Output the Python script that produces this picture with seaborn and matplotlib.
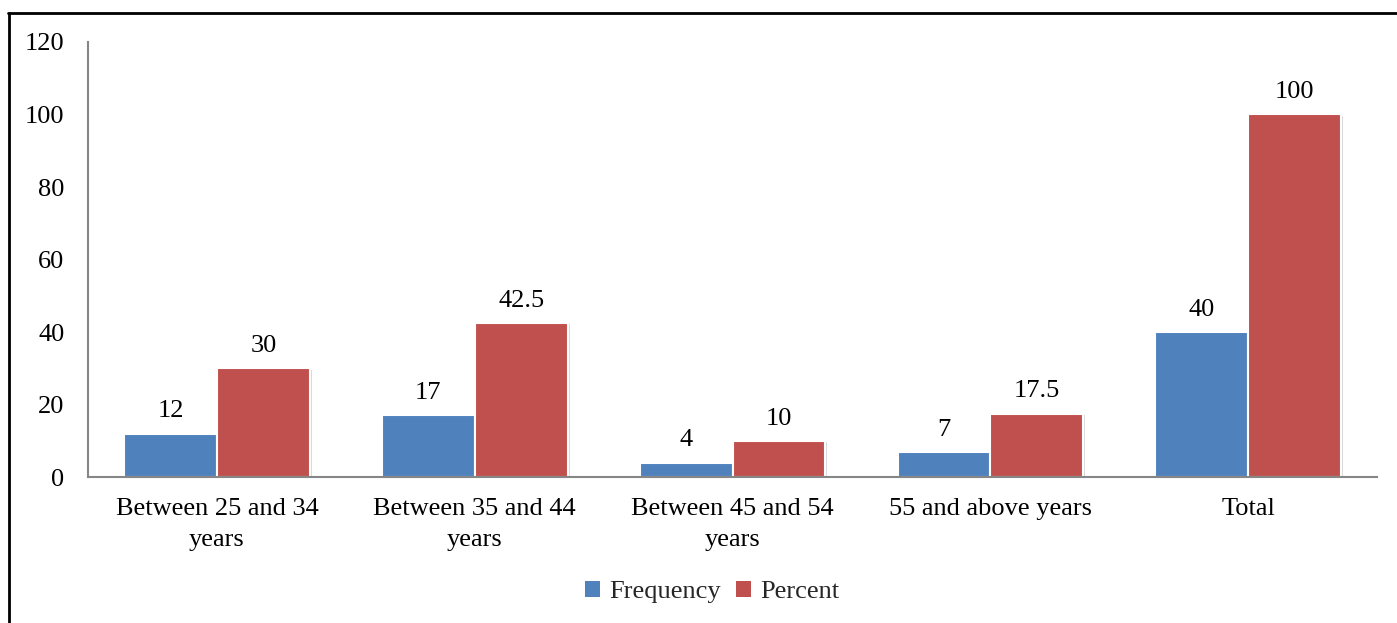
import matplotlib
matplotlib.use("Agg")
import matplotlib.pyplot as plt
import matplotlib.patheffects as pe
from matplotlib.lines import Line2D
from matplotlib.patches import Patch
import seaborn as sns
import pandas as pd

categories = ["Between 25 and 34\nyears", "Between 35 and 44\nyears",
              "Between 45 and 54\nyears", "55 and above years", "Total"]
frequency = [12, 17, 4, 7, 40]
percent = [30, 42.5, 10, 17.5, 100]
series_names = ["Frequency", "Percent"]
y_ticks = [0, 20, 40, 60, 80, 100, 120]

colors = {"Frequency": "#4F81BD", "Percent": "#C0504D"}

df = pd.DataFrame({
    "category": categories * 2,
    "value": frequency + percent,
    "series": [series_names[0]] * len(categories) + [series_names[1]] * len(categories),
})

sns.set_theme(style="white")
plt.rcParams["font.family"] = ["Liberation Serif", "DejaVu Serif"]

FS = 19

fig = plt.figure(figsize=(13.97, 6.23), dpi=100)
ax = fig.add_axes([0.063, 0.2343, 0.9227, 0.6983])

sns.barplot(data=df, x="category", y="value", hue="series", order=categories,
            hue_order=series_names, palette=colors, saturation=1, width=0.72,
            edgecolor="white", linewidth=1.5, legend=False, ax=ax)

for patch in ax.patches:
    patch.set_path_effects([pe.SimplePatchShadow(offset=(1.5, -1), shadow_rgbFace="#000000", alpha=0.15),
                            pe.Normal()])

for container in ax.containers:
    labels = [f"{v:g}" for v in container.datavalues]
    ax.bar_label(container, labels=labels, padding=8, fontsize=FS, color="#000000")

ax.set_ylim(0, 120)
ax.set_yticks(y_ticks)
ax.set_xlim(-0.5, len(categories) - 0.5)
ax.tick_params(axis="y", length=0, pad=17, labelsize=FS, labelcolor="#000000")
ax.tick_params(axis="x", length=0, pad=15, labelsize=FS, labelcolor="#000000")
for lbl in ax.get_xticklabels():
    lbl.set_linespacing(1.55)
ax.set_xlabel("")
ax.set_ylabel("")
for side in ["top", "right"]:
    ax.spines[side].set_visible(False)
for side in ["left", "bottom"]:
    ax.spines[side].set_color("#868686")
    ax.spines[side].set_linewidth(1.5)

handles = [Patch(facecolor=colors[s], edgecolor="none") for s in series_names]
fig.legend(handles, series_names, loc="center", bbox_to_anchor=(0.5097, 0.05),
           ncol=2, frameon=False, fontsize=FS, handlelength=0.55, handleheight=0.55,
           handletextpad=0.35, columnspacing=0.6)

# outer frame (left and top edges)
fig.add_artist(Line2D([0.0062, 0.0062], [0.0, 0.979], transform=fig.transFigure,
                      color="black", linewidth=2))
fig.add_artist(Line2D([0.0055, 1.0], [0.979, 0.979], transform=fig.transFigure,
                      color="black", linewidth=2))

fig.savefig("out.png", dpi=100)
